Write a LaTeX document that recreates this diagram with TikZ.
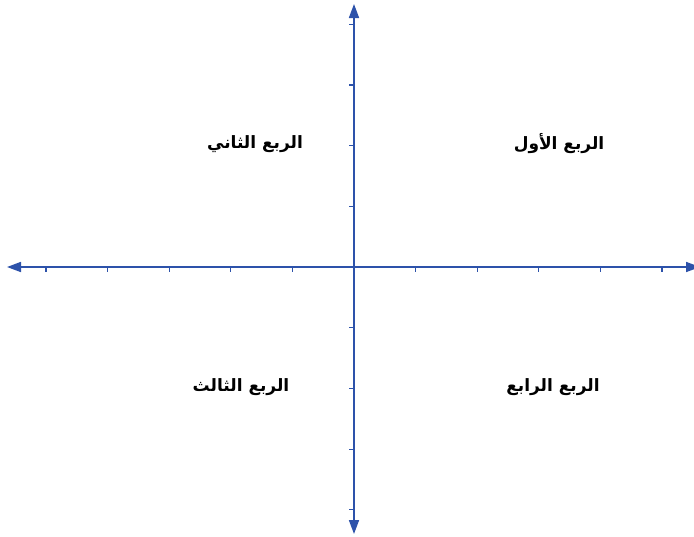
\documentclass[tikz,border=0pt]{standalone}
\usepackage{fontspec}
\usetikzlibrary{arrows.meta,calc}
\TeXXeTstate=1
\newfontfamily\arabicfont[Script=Arabic]{DejaVu Sans}
\definecolor{axisblue}{RGB}{45,82,170}
\begin{document}
\begin{tikzpicture}[x=1pt,y=-1pt,
  axisline/.style={draw=axisblue,line width=1.7pt,-{Triangle[length=14pt,width=10pt]}},
  tickmark/.style={draw=axisblue,line width=1.2pt},
  quadlabel/.style={font=\arabicfont\bfseries\fontsize{17}{19}\selectfont,inner sep=0pt}]
\useasboundingbox[fill=white] (0,0) rectangle (694,536);
\clip (0,0) rectangle (694,536);
\coordinate (O) at (354,267);
\coordinate (top) at (354,4);
\coordinate (bottom) at (354,534);
\coordinate (left) at (7,267);
\coordinate (right) at (700,267);
\draw[axisline] (O) -- (top);
\draw[axisline] (O) -- (bottom);
\draw[axisline] (O) -- (left);
\draw[axisline] (O) -- (right);
\foreach \i in {-5,...,-1,1,2,...,5}
  \draw[tickmark] ($(O)+(\i*61.6,0)$) -- ++(0,4.5);
\foreach \i in {-4,...,-1,1,2,...,4}
  \draw[tickmark] ($(O)+(0,\i*60.7)$) -- ++(-5,0);
\node[quadlabel] (q1) at (559,144) {\beginR الربع الأول\endR};
\node[quadlabel] (q2) at (255,144) {\beginR الربع الثاني\endR};
\node[quadlabel] (q3) at (241,387) {\beginR الربع الثالث\endR};
\node[quadlabel] (q4) at (553,387) {\beginR الربع الرابع\endR};
\end{tikzpicture}
\end{document}
